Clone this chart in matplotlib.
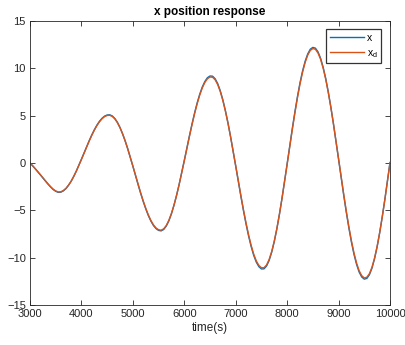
import matplotlib
matplotlib.use("Agg")
import matplotlib.pyplot as plt

plt.rcParams['font.family'] = ['Liberation Sans', 'DejaVu Sans']
plt.rcParams['mathtext.fontset'] = 'custom'
plt.rcParams['mathtext.rm'] = 'Liberation Sans'

time_s = list(range(3000, 10001, 50))

x_actual = [
    0.00, -0.29, -0.60, -0.92, -1.24, -1.58, -1.91, -2.23, -2.53, -2.80, -2.99, -3.10,
    -3.08, -2.94, -2.70, -2.35, -1.93, -1.42, -0.86, -0.24, 0.40, 1.05,
    1.70, 2.34, 2.95, 3.50, 3.99, 4.40, 4.72, 4.95, 5.07, 5.09,
    4.97, 4.70, 4.29, 3.75, 3.09, 2.34, 1.50, 0.60, -0.34, -1.30,
    -2.25, -3.17, -4.04, -4.83, -5.54, -6.13, -6.60, -6.93, -7.12, -7.17,
    -7.02, -6.66, -6.11, -5.37, -4.46, -3.42, -2.26, -1.01, 0.27, 1.58,
    2.87, 4.11, 5.28, 6.34, 7.26, 8.03, 8.61, 9.01, 9.19, 9.17,
    8.90, 8.38, 7.63, 6.67, 5.52, 4.22, 2.78, 1.25, -0.33, -1.93,
    -3.50, -5.01, -6.42, -7.70, -8.82, -9.76, -10.47, -10.95, -11.19, -11.18,
    -10.88, -10.29, -9.42, -8.30, -6.96, -5.42, -3.73, -1.93, -0.08, 1.79,
    3.62, 5.37, 7.00, 8.47, 9.72, 10.75, 11.52, 12.02, 12.21, 12.13,
    11.74, 11.07, 10.12, 8.93, 7.50, 5.90, 4.15, 2.30, 0.39, -1.52,
    -3.40, -5.19, -6.85, -8.35, -9.65, -10.71, -11.52, -12.04, -12.27, -12.19,
    -11.80, -11.10, -10.10, -8.85, -7.35, -5.66, -3.84, -1.90, 0.06,
]

x_desired = [
    0.00, -0.28, -0.58, -0.90, -1.22, -1.55, -1.88, -2.20, -2.50, -2.76, -2.95, -3.06,
    -3.04, -2.90, -2.67, -2.33, -1.92, -1.42, -0.87, -0.26, 0.37, 1.02,
    1.67, 2.31, 2.91, 3.46, 3.94, 4.35, 4.67, 4.90, 5.02, 5.04,
    4.92, 4.66, 4.26, 3.73, 3.08, 2.34, 1.51, 0.62, -0.31, -1.26,
    -2.20, -3.12, -3.98, -4.77, -5.47, -6.06, -6.53, -6.86, -7.05, -7.10,
    -6.95, -6.60, -6.06, -5.33, -4.44, -3.42, -2.28, -1.05, 0.22, 1.52,
    2.80, 4.04, 5.20, 6.25, 7.17, 7.93, 8.51, 8.90, 9.08, 9.06,
    8.79, 8.28, 7.54, 6.60, 5.47, 4.19, 2.77, 1.27, -0.29, -1.87,
    -3.42, -4.92, -6.32, -7.59, -8.70, -9.63, -10.34, -10.82, -11.07, -11.06,
    -10.77, -10.19, -9.34, -8.24, -6.92, -5.41, -3.75, -1.98, -0.15, 1.70,
    3.52, 5.26, 6.88, 8.34, 9.59, 10.62, 11.39, 11.89, 12.09, 12.01,
    11.62, 10.96, 10.02, 8.85, 7.45, 5.87, 4.15, 2.33, 0.45, -1.44,
    -3.30, -5.08, -6.73, -8.22, -9.51, -10.57, -11.38, -11.90, -12.14, -12.07,
    -11.69, -11.01, -10.03, -8.80, -7.33, -5.67, -3.87, -1.96, 0.00,
]

x_ticks = [3000, 4000, 5000, 6000, 7000, 8000, 9000, 10000]
y_ticks = [-15, -10, -5, 0, 5, 10, 15]
legend_labels = ['x', r'x$_\mathrm{d}$']

W, H = 405, 345
fig = plt.figure(figsize=(W / 100, H / 100), dpi=100)
ax = fig.add_axes([30 / W, 40 / H, 360 / W, 284 / H])

ax.plot(time_s, x_actual, color='#0072BD', lw=1.0, label=legend_labels[0])
ax.plot(time_s, x_desired, color='#D95319', lw=1.0, label=legend_labels[1])

ax.set_xlim(3000, 10000)
ax.set_ylim(-15, 15)
ax.set_xticks(x_ticks)
ax.set_yticks(y_ticks)
ax.tick_params(direction='in', length=3.5, width=0.6, top=True, right=True,
               labelsize=8, colors='#262626', pad=3)
for s in ax.spines.values():
    s.set_color('#262626')
    s.set_linewidth(0.6)

ax.set_title('x position response', fontsize=8.5, fontweight='bold', color='black', pad=4)
ax.set_xlabel('time(s)', fontsize=8.5, color='#262626', labelpad=2)

leg = ax.legend(loc='upper right', bbox_to_anchor=(0.975, 0.972), borderaxespad=0,
                fontsize=7.5, frameon=True, fancybox=False, handlelength=3.3,
                handletextpad=0.25, borderpad=0.35, labelspacing=0.5)
leg.get_frame().set_edgecolor('black')
leg.get_frame().set_linewidth(0.9)

fig.savefig('out.png', dpi=100)
